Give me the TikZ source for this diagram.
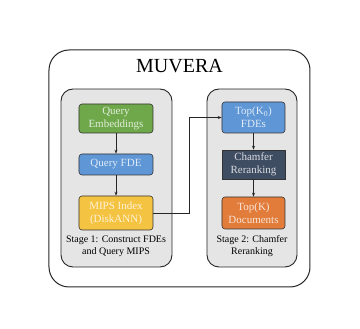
\documentclass[tikz,border=0pt]{standalone}
\usepackage{fontspec}
\setmainfont{Liberation Serif}
\usetikzlibrary{positioning, arrows.meta}
\definecolor{qgreen}{HTML}{6FA84A}
\definecolor{qblue}{HTML}{5F97D6}
\definecolor{qyellow}{HTML}{F5C342}
\definecolor{qslate}{HTML}{3F4D63}
\definecolor{qorange}{HTML}{E27C3A}
\definecolor{stagegray}{HTML}{E6E5E6}

\begin{document}
\begin{tikzpicture}[x=1pt, y=-1pt,
        stage/.style={rectangle, rounded corners=12pt, draw=black!85, line width=0.9pt,
                      fill=stagegray, minimum width=#1, minimum height=178pt},
        box/.style={rectangle, rounded corners=3pt, draw=black!80, line width=0.6pt,
                    fill=#1, text=white!80!#1, font=\fontsize{11}{13}\selectfont,
                    align=center, inner sep=1pt},
        caption/.style={font=\fontsize{10}{12}\selectfont, align=center},
        flow/.style={-{Stealth[length=4pt, width=3pt]}, line width=0.6pt, draw=black!85}
      ]
        \useasboundingbox (0,0) rectangle (360,329);
        % outer frame
        \node[rectangle, rounded corners=20pt, draw=black!85, line width=1pt,
              minimum width=261pt, minimum height=237pt] (frame) at (179.5,168.5) {};
        \node[font=\fontsize{20}{24}\selectfont] (title) at (179.5,66) {MUVERA};
        % stages
        \node[stage=111pt] (s1) at (116.5,178) {};
        \node[stage=90pt] (s2) at (252,178) {};
        % stage 1
        \node[box=qgreen, minimum width=74pt, minimum height=29pt] (emb) at (116,118.5) {Query\\Embeddings};
        \node[box=qblue, minimum width=74pt, minimum height=21pt] (fde) at (116,164.5) {Query FDE};
        \node[box=qyellow, minimum width=74pt, minimum height=34pt] (mips) at (116,213) {MIPS Index\\(DiskANN)};
        \node[caption] (cap1) at (116,246) {Stage 1: Construct FDEs\\and Query MIPS};
        % stage 2
        \node[box=qblue, minimum width=63pt, minimum height=31pt] (topk0) at (253.5,117.5) {Top(K\textsubscript{0})\\FDEs};
        \node[box=qslate, rounded corners=0pt, minimum width=63pt, minimum height=29pt] (chamfer) at (253.5,164.5) {Chamfer\\Reranking};
        \node[box=qorange, minimum width=63pt, minimum height=32pt] (topk) at (253.5,213) {Top(K)\\Documents};
        \node[caption] (cap2) at (252,246) {Stage 2: Chamfer\\Reranking};
        % arrows
        \draw[flow] (emb) -- (fde);
        \draw[flow] (fde) -- (mips);
        \draw[flow] (mips.east) -- ++(36,0) |- (topk0.west);
        \draw[flow] (topk0) -- (chamfer);
        \draw[flow] (chamfer) -- (topk);
      \end{tikzpicture}
\end{document}
